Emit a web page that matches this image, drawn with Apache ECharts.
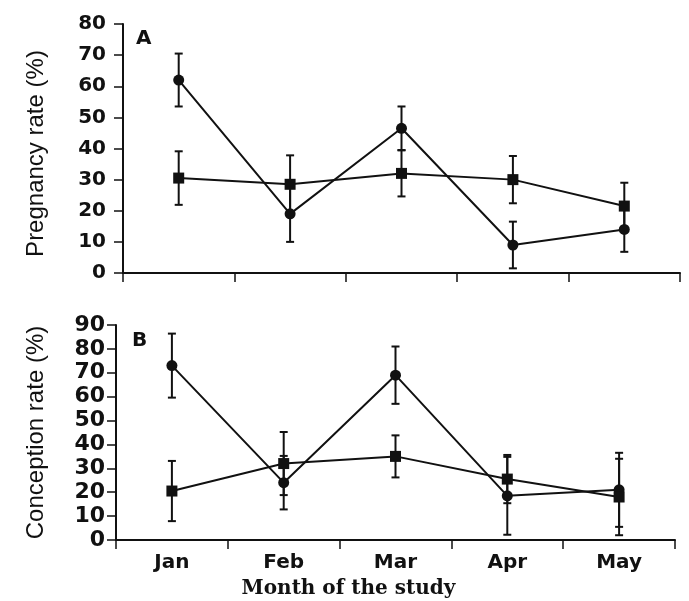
<!DOCTYPE html>
<html>
<head>
<meta charset="utf-8">
<script src="https://cdn.jsdelivr.net/npm/echarts@6/dist/echarts.min.js"></script>
<style>html,body{margin:0;padding:0;background:#fff}#c{width:689px;height:601px}</style>
</head>
<body>
<div id="c"></div>
<script>
// ---- data ----
const months = ['Jan', 'Feb', 'Mar', 'Apr', 'May'];
// Panel A: Pregnancy rate (%)
const pregCircle = [62, 19, 46.5, 9, 14];
const pregCircleErr = [8.5, 9, 7, 7.5, 7.2];
const pregSquare = [30.5, 28.5, 32, 30, 21.5];
const pregSquareErr = [8.6, 9.3, 7.4, 7.6, 7.5];
// Panel B: Conception rate (%)
const concCircle = [73, 24, 69, 18.5, 21];
const concCircleErr = [13.4, 11.2, 12, 16.3, 15.5];
const concSquare = [20.5, 32, 35, 25.5, 18];
const concSquareErr = [12.6, 13.2, 8.8, 10.1, 16];
const ticksA = [0, 80, 10];
const ticksB = [0, 90, 10];

const INK = '#111';
function errData(v, e) { return months.map((m, i) => [i, v[i] - e[i], v[i] + e[i]]); }
function errSeries(v, e, idx) {
  return {
    type: 'custom', xAxisIndex: idx, yAxisIndex: idx, z: 1,
    data: errData(v, e),
    renderItem: function (params, api) {
      const x = api.value(0);
      const lo = api.coord([x, api.value(1)]);
      const hi = api.coord([x, api.value(2)]);
      const w = 4;
      const st = { stroke: INK, lineWidth: 2 };
      return {
        type: 'group', children: [
          { type: 'line', shape: { x1: lo[0], y1: lo[1], x2: hi[0], y2: hi[1] }, style: st },
          { type: 'line', shape: { x1: lo[0] - w, y1: lo[1], x2: lo[0] + w, y2: lo[1] }, style: st },
          { type: 'line', shape: { x1: hi[0] - w, y1: hi[1], x2: hi[0] + w, y2: hi[1] }, style: st }
        ]
      };
    }
  };
}
function lineSeries(v, sym, idx) {
  return {
    type: 'line', xAxisIndex: idx, yAxisIndex: idx, data: v, z: 3,
    symbol: sym, symbolSize: 11, showSymbol: true,
    lineStyle: { color: INK, width: 2 },
    itemStyle: { color: INK },
    animation: false
  };
}
const axisLine = { show: true, lineStyle: { color: INK, width: 2 } };
const tickStyle = { show: true, length: 9, lineStyle: { color: INK, width: 1.5 } };

const chart = echarts.init(document.getElementById('c'), null, { renderer: 'canvas' });
chart.setOption({
  backgroundColor: '#fff',
  animation: false,
  grid: [
    { left: 123, right: 9, top: 24, height: 249, outerBoundsMode: 'none', containLabel: false },
    { left: 116, right: 14, top: 325, height: 215, outerBoundsMode: 'none', containLabel: false }
  ],
  xAxis: [
    { gridIndex: 0, type: 'category', data: months, boundaryGap: true,
      axisLine: axisLine, axisTick: tickStyle, axisLabel: { show: false }, splitLine: { show: false } },
    { gridIndex: 1, type: 'category', data: months, boundaryGap: true,
      axisLine: axisLine, axisTick: tickStyle,
      axisLabel: { color: INK, fontFamily: 'DejaVu Sans', fontWeight: 'bold', fontSize: 20, margin: 13 },
      splitLine: { show: false },
      name: 'Month of the study', nameLocation: 'middle', nameGap: 39,
      nameTextStyle: { color: INK, fontFamily: 'DejaVu Serif', fontWeight: 'bold', fontSize: 20, padding: [0, 94, 0, 0] } }
  ],
  yAxis: [
    { gridIndex: 0, type: 'value', min: ticksA[0], max: ticksA[1], interval: ticksA[2],
      axisLine: axisLine, axisTick: tickStyle, splitLine: { show: false },
      axisLabel: { color: INK, fontFamily: 'DejaVu Sans', fontWeight: 'bold', fontSize: 20, margin: 17 },
      name: 'Pregnancy rate (%)', nameLocation: 'middle', nameGap: 75, nameRotate: 90,
      nameTextStyle: { color: INK, fontFamily: 'Liberation Sans', fontSize: 24, padding: [0, 10, 0, 0] } },
    { gridIndex: 1, type: 'value', min: ticksB[0], max: ticksB[1], interval: ticksB[2],
      axisLine: axisLine, axisTick: tickStyle, splitLine: { show: false },
      axisLabel: { color: INK, fontFamily: 'DejaVu Sans', fontWeight: 'bold', fontSize: 22, margin: 11 },
      name: 'Conception rate (%)', nameLocation: 'middle', nameGap: 68, nameRotate: 90,
      nameTextStyle: { color: INK, fontFamily: 'Liberation Sans', fontSize: 24 } }
  ],
  graphic: [
    { type: 'text', left: 136, top: 29, style: { text: 'A', fill: INK, font: 'bold 20px "DejaVu Sans"' } },
    { type: 'text', left: 132, top: 331, style: { text: 'B', fill: INK, font: 'bold 20px "DejaVu Sans"' } }
  ],
  series: [
    errSeries(pregCircle, pregCircleErr, 0),
    errSeries(pregSquare, pregSquareErr, 0),
    lineSeries(pregCircle, 'circle', 0),
    lineSeries(pregSquare, 'rect', 0),
    errSeries(concCircle, concCircleErr, 1),
    errSeries(concSquare, concSquareErr, 1),
    lineSeries(concCircle, 'circle', 1),
    lineSeries(concSquare, 'rect', 1)
  ]
});
</script>
</body>
</html>
